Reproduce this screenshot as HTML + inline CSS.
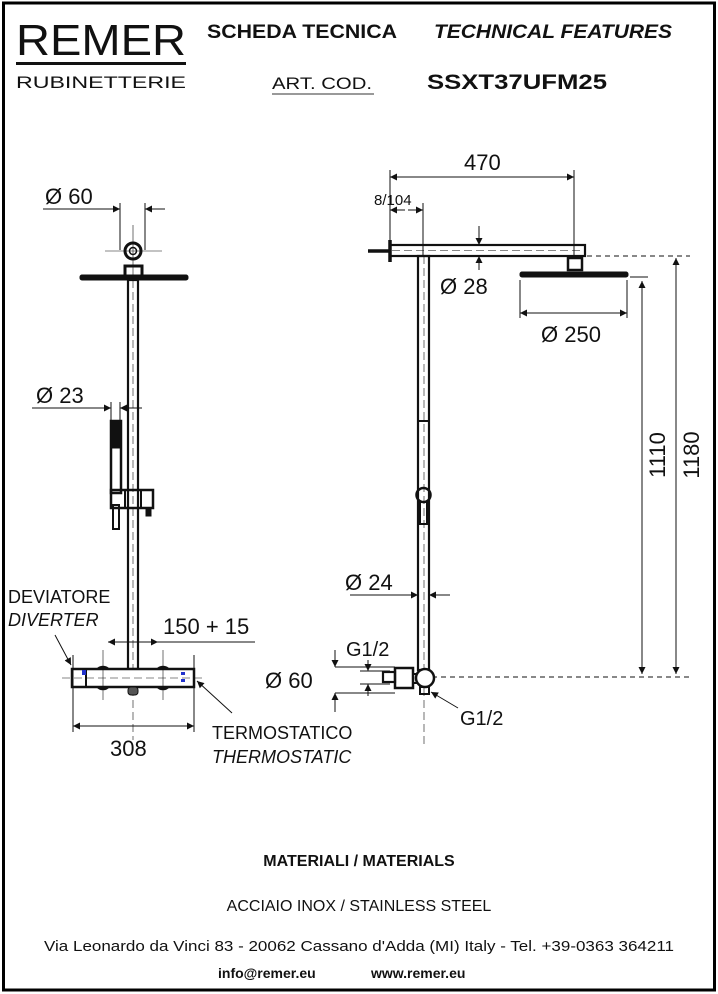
<!DOCTYPE html>
<html><head><meta charset="utf-8"><style>
body{margin:0;background:#fff}
svg{display:block}
text{font-family:"Liberation Sans",sans-serif;fill:#111}
</style></head><body>
<svg width="718" height="994" viewBox="0 0 718 994" xmlns="http://www.w3.org/2000/svg">
<defs>
<marker id="a" viewBox="0 0 10 10" refX="10" refY="5" markerWidth="9" markerHeight="7" orient="auto-start-reverse" markerUnits="userSpaceOnUse"><path d="M0,0 L10,5 L0,10z" fill="#111"/></marker>
</defs>
<rect x="3.5" y="3" width="711" height="987" fill="none" stroke="#000" stroke-width="3"/>
<!-- header -->
<text x="16" y="55" font-size="44" textLength="170" lengthAdjust="spacingAndGlyphs">REMER</text>
<rect x="16" y="62" width="170" height="3" fill="#111"/>
<text x="16" y="88" font-size="17" textLength="170" lengthAdjust="spacingAndGlyphs">RUBINETTERIE</text>
<text x="207" y="38" font-size="19" font-weight="bold" textLength="190" lengthAdjust="spacingAndGlyphs">SCHEDA TECNICA</text>
<text x="434" y="38" font-size="19" font-weight="bold" font-style="italic" textLength="238" lengthAdjust="spacingAndGlyphs">TECHNICAL FEATURES</text>
<text x="272" y="89" font-size="17" textLength="100" lengthAdjust="spacingAndGlyphs">ART. COD.</text>
<line x1="272" y1="94" x2="374" y2="94" stroke="#333" stroke-width="1"/>
<text x="427" y="89" font-size="21" font-weight="bold" textLength="180" lengthAdjust="spacingAndGlyphs">SSXT37UFM25</text>

<g stroke="#111" fill="none" stroke-width="1">
<!-- LEFT DRAWING -->
<line x1="43" y1="209" x2="120" y2="209" marker-end="url(#a)"/>
<line x1="165" y1="209" x2="145" y2="209" marker-end="url(#a)"/>
<line x1="120" y1="203" x2="120" y2="250"/><line x1="145" y1="203" x2="145" y2="250"/>
<line x1="133" y1="225" x2="133" y2="280" stroke-width="0.6"/>
<line x1="105" y1="251" x2="162" y2="251" stroke-width="0.6"/>
<circle cx="133" cy="251" r="8" stroke-width="3"/><circle cx="133" cy="251" r="3.5" stroke-width="1.5"/>
<rect x="125" y="266" width="17" height="10" stroke-width="3"/>
<rect x="80" y="275" width="108" height="5" fill="#111" rx="2"/>
<rect x="128" y="280" width="10" height="389" stroke-width="2.2"/>
<line x1="133" y1="280" x2="133" y2="740" stroke-dasharray="8 4" stroke-width="0.6"/>
<line x1="32" y1="408" x2="111" y2="408" marker-end="url(#a)"/>
<line x1="142" y1="408" x2="120" y2="408" marker-end="url(#a)"/>
<line x1="111" y1="402" x2="111" y2="420"/><line x1="120" y1="402" x2="120" y2="420"/>
<rect x="111" y="421" width="10" height="72" stroke-width="2.5"/>
<rect x="111" y="421" width="10" height="27" fill="#111"/>
<rect x="113" y="505" width="6" height="24" stroke-width="2"/>
<rect x="111" y="490" width="42" height="18" stroke-width="2.5"/>
<line x1="125" y1="490" x2="125" y2="508" stroke-width="2"/><line x1="141" y1="490" x2="141" y2="508" stroke-width="2"/>
<rect x="146" y="508" width="5" height="8" fill="#111"/>
<!-- bar -->
<ellipse cx="103" cy="678" rx="9" ry="11" stroke-width="2.5"/>
<ellipse cx="163" cy="678" rx="9" ry="11" stroke-width="2.5"/>
<rect x="72" y="669" width="122" height="18" fill="#fff" stroke-width="2.5"/>
<line x1="86" y1="669" x2="86" y2="687" stroke-width="2"/>
<rect x="128" y="687" width="10" height="8" fill="#555" rx="3"/>
<rect x="82" y="670" width="4" height="5" fill="#23c" stroke="none"/>
<rect x="181" y="672" width="4" height="3" fill="#23c" stroke="none"/><rect x="181" y="679" width="4" height="3" fill="#23c" stroke="none"/>
<line x1="62" y1="678" x2="205" y2="678" stroke-width="0.6" stroke-dasharray="8 4"/>
<line x1="73" y1="655" x2="73" y2="732"/><line x1="194" y1="655" x2="194" y2="732"/>
<line x1="103" y1="650" x2="103" y2="700" stroke-width="0.6"/><line x1="163" y1="650" x2="163" y2="700" stroke-width="0.6"/>
<line x1="130" y1="642" x2="108" y2="642" marker-end="url(#a)"/>
<line x1="130" y1="642" x2="158" y2="642" marker-end="url(#a)"/>
<line x1="158" y1="642" x2="255" y2="642"/>
<line x1="100" y1="726" x2="73" y2="726" marker-end="url(#a)"/>
<line x1="100" y1="726" x2="194" y2="726" marker-end="url(#a)"/>
<line x1="55" y1="635" x2="71" y2="665" marker-end="url(#a)"/>
<line x1="232" y1="713" x2="197" y2="681" marker-end="url(#a)"/>

<!-- RIGHT DRAWING -->
<line x1="480" y1="177" x2="390" y2="177" marker-end="url(#a)"/>
<line x1="480" y1="177" x2="574" y2="177" marker-end="url(#a)"/>
<line x1="390" y1="170" x2="390" y2="240"/><line x1="574" y1="170" x2="574" y2="258"/>
<line x1="405" y1="210" x2="390" y2="210" marker-end="url(#a)"/>
<line x1="408" y1="210" x2="423" y2="210" marker-end="url(#a)"/>
<line x1="423" y1="203" x2="423" y2="256"/>
<rect x="390" y="245" width="195" height="11" stroke-width="2.2"/>
<line x1="392" y1="250.5" x2="583" y2="250.5" stroke-width="0.6" stroke-dasharray="8 4"/>
<line x1="368" y1="251" x2="390" y2="251" stroke-width="3.5"/>
<line x1="390" y1="240" x2="390" y2="262" stroke-width="3.5"/>
<line x1="479" y1="226" x2="479" y2="245" marker-end="url(#a)"/>
<line x1="479" y1="270" x2="479" y2="256" marker-end="url(#a)"/>
<rect x="568" y="258" width="14" height="12" stroke-width="2.5"/>
<rect x="520" y="272" width="108" height="5" fill="#111" rx="2"/>
<line x1="520" y1="280" x2="520" y2="318"/><line x1="627" y1="280" x2="627" y2="318"/>
<line x1="560" y1="313" x2="520" y2="313" marker-end="url(#a)"/>
<line x1="560" y1="313" x2="627" y2="313" marker-end="url(#a)"/>
<line x1="587" y1="256" x2="690" y2="256" stroke-dasharray="5 4"/>
<line x1="630" y1="277" x2="648" y2="277"/>
<line x1="642" y1="460" x2="642" y2="281" marker-end="url(#a)"/>
<line x1="642" y1="460" x2="642" y2="674" marker-end="url(#a)"/>
<line x1="676" y1="460" x2="676" y2="258" marker-end="url(#a)"/>
<line x1="676" y1="460" x2="676" y2="674" marker-end="url(#a)"/>
<line x1="432" y1="677" x2="690" y2="677" stroke-dasharray="5 4"/>
<rect x="418" y="256" width="11" height="414" stroke-width="2.2"/>
<line x1="424" y1="256" x2="424" y2="745" stroke-width="0.6" stroke-dasharray="8 4"/>
<line x1="418" y1="421" x2="429" y2="421" stroke-width="2"/>
<circle cx="423.5" cy="495" r="7" stroke-width="2.5"/>
<rect x="420" y="502" width="7" height="22" stroke-width="2"/>
<line x1="350" y1="595" x2="418" y2="595" marker-end="url(#a)"/>
<line x1="450" y1="595" x2="429" y2="595" marker-end="url(#a)"/>
<rect x="395" y="668" width="18" height="20" stroke-width="2.5" fill="#fff"/>
<rect x="383" y="672" width="12" height="10" stroke-width="2.2"/>
<line x1="413" y1="674" x2="418" y2="674" stroke-width="2"/><line x1="413" y1="683" x2="418" y2="683" stroke-width="2"/>
<circle cx="425" cy="678" r="9" stroke-width="2.5" fill="#fff"/>
<rect x="420" y="687" width="9" height="7" stroke-width="2"/>
<line x1="368" y1="660" x2="368" y2="671" marker-end="url(#a)"/>
<line x1="368" y1="696" x2="368" y2="684" marker-end="url(#a)"/>
<line x1="360" y1="671" x2="390" y2="671"/><line x1="360" y1="684" x2="390" y2="684"/>
<line x1="335" y1="650" x2="335" y2="667" marker-end="url(#a)"/>
<line x1="335" y1="712" x2="335" y2="693" marker-end="url(#a)"/>
<line x1="335" y1="667" x2="395" y2="667"/><line x1="335" y1="693" x2="395" y2="693"/>
<line x1="458" y1="708" x2="431" y2="692" marker-end="url(#a)"/>
</g>

<g font-size="22">
<text x="45" y="204">Ø 60</text>
<text x="36" y="403">Ø 23</text>
<text x="163" y="634">150 + 15</text>
<text x="110" y="756">308</text>
<text x="464" y="170">470</text>
<text x="440" y="294">Ø 28</text>
<text x="541" y="342">Ø 250</text>
<text x="345" y="590">Ø 24</text>
<text x="265" y="688">Ø 60</text>
<text x="346" y="656" font-size="20">G1/2</text>
<text x="460" y="725" font-size="20">G1/2</text>
<text transform="translate(665,455) rotate(-90)" text-anchor="middle">1110</text>
<text transform="translate(699,455) rotate(-90)" text-anchor="middle">1180</text>
</g>
<text x="374" y="205" font-size="15">8/104</text>
<text x="8" y="603" font-size="18">DEVIATORE</text>
<text x="8" y="626" font-size="18" font-style="italic">DIVERTER</text>
<text x="212" y="739" font-size="18">TERMOSTATICO</text>
<text x="212" y="763" font-size="18" font-style="italic">THERMOSTATIC</text>

<text x="359" y="866" font-size="16" font-weight="bold" text-anchor="middle">MATERIALI / MATERIALS</text>
<text x="359" y="911" font-size="16" text-anchor="middle">ACCIAIO INOX / STAINLESS STEEL</text>
<text x="359" y="951" font-size="14.5" text-anchor="middle" textLength="630" lengthAdjust="spacingAndGlyphs">Via Leonardo da Vinci 83 - 20062 Cassano d'Adda (MI) Italy - Tel. +39-0363 364211</text>
<text x="218" y="978" font-size="14" font-weight="bold">info@remer.eu</text>
<text x="371" y="978" font-size="14" font-weight="bold">www.remer.eu</text>
</svg>
</body></html>
